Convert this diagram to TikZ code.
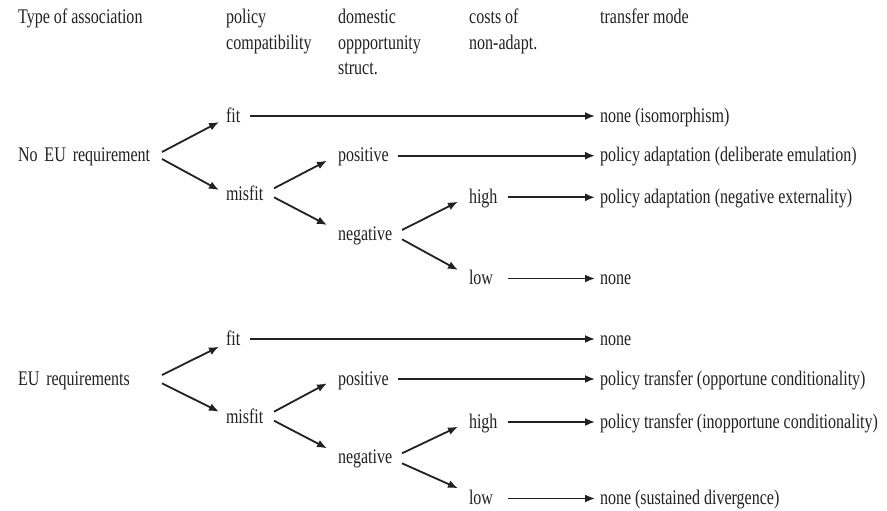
\documentclass[tikz,border=0pt]{standalone}
\usepackage{fontspec}
\setmainfont{Liberation Serif}[FakeStretch=0.77]
\usetikzlibrary{arrows.meta}
\definecolor{ink}{gray}{0.13}
\tikzset{
  lbl/.style={anchor=base west, inner sep=0pt, outer sep=0pt, text height=12pt, text depth=0pt,
              align=left, text=ink, font=\fontsize{20.8}{24}\selectfont},
  hdr/.style={anchor=base west, inner sep=0pt, text=ink, font=\fontsize{20.8}{24}\selectfont},
  arr/.style={draw=ink, line width=1.8pt, -{Latex[length=10pt,width=8pt]}}
}
\begin{document}
\begin{tikzpicture}[x=1pt,y=-1pt]
\useasboundingbox (0,0) rectangle (887,511);
% headers
\node[hdr] (h0)  at (18,24)   {Type of association};
\node[hdr] (h1a) at (226,24)  {policy};
\node[hdr] (h1b) at (226,49.5){compatibility};
\node[hdr] (h2a) at (338,24)  {domestic};
\node[hdr] (h2b) at (338,49.5){oppportunity};
\node[hdr] (h2c) at (338,75)  {struct.};
\node[hdr] (h3a) at (469,24)  {costs of};
\node[hdr] (h3b) at (469,49.5){non-adapt.};
\node[hdr] (h4)  at (600,24)  {transfer mode};
% top block
\node[lbl, text width=144pt] (noeu) at (18,161.7) {\mbox{No EU requirement}};
\node[lbl, text width=24pt]  (fitA) at (226,122)   {fit};
\node[lbl, text width=48pt]  (misA) at (226,200)   {misfit};
\node[lbl, text width=60pt]  (posA) at (338,161.7) {positive};
\node[lbl, text width=64pt]  (negA) at (338,240)   {negative};
\node[lbl, text width=39pt]  (highA) at (469,203.3) {high};
\node[lbl, text width=39pt]  (lowA)  at (469,284.5) {low};
\node[lbl] (oA1) at (600,122)   {none (isomorphism)};
\node[lbl] (oA2) at (600,161.7) {policy adaptation (deliberate emulation)};
\node[lbl] (oA3) at (600,203.3) {policy adaptation (negative externality)};
\node[lbl] (oA4) at (600,284.5) {none};
% bottom block
\node[lbl, text width=144pt] (eu) at (18,385) {\mbox{EU requirements}};
\node[lbl, text width=24pt]  (fitB) at (226,345)   {fit};
\node[lbl, text width=48pt]  (misB) at (226,423.3) {misfit};
\node[lbl, text width=60pt]  (posB) at (338,385)   {positive};
\node[lbl, text width=64pt]  (negB) at (338,463.3) {negative};
\node[lbl, text width=39pt]  (highB) at (469,428)  {high};
\node[lbl, text width=39pt]  (lowB)  at (469,504.5) {low};
\node[lbl] (oB1) at (600,345)   {none};
\node[lbl] (oB2) at (600,385)   {policy transfer (opportune conditionality)};
\node[lbl] (oB3) at (600,428)   {policy transfer (inopportune conditionality)};
\node[lbl] (oB4) at (600,504.5) {none (sustained divergence)};
% top arrows
\draw[arr] ([yshift=3.7pt]noeu.east) -- ([xshift=-7pt,yshift=-6pt]fitA.west);
\draw[arr] ([yshift=-3.3pt]noeu.east) -- ([xshift=-7pt,yshift=4pt]misA.west);
\draw[arr] ([yshift=5.7pt]misA.east) -- ([xshift=-11pt,yshift=-5pt]posA.west);
\draw[arr] ([yshift=-3.3pt]misA.east) -- ([xshift=-11pt,yshift=9pt]negA.west);
\draw[arr] ([yshift=4pt]negA.east) -- ([xshift=-11pt,yshift=-4.4pt]highA.west);
\draw[arr] ([yshift=-5.3pt]negA.east) -- ([xshift=-11pt,yshift=8.5pt]lowA.west);
\draw[arr] (fitA.east) -- ([xshift=-5pt]oA1.west);
\draw[arr] (posA.east) -- ([xshift=-5pt]oA2.west);
\draw[arr] (highA.east) -- ([xshift=-5pt]oA3.west);
\draw[arr] (lowA.east) -- ([xshift=-5pt]oA4.west);
% bottom arrows
\draw[arr] ([yshift=4pt]eu.east) -- ([xshift=-7pt,yshift=-7.7pt]fitB.west);
\draw[arr] ([yshift=-4.3pt]eu.east) -- ([xshift=-7pt,yshift=5.6pt]misB.west);
\draw[arr] ([yshift=5.6pt]misB.east) -- ([xshift=-11pt,yshift=-4.3pt]posB.west);
\draw[arr] ([yshift=-3.4pt]misB.east) -- ([xshift=-11pt,yshift=9pt]negB.west);
\draw[arr] ([yshift=4pt]negB.east) -- ([xshift=-11pt,yshift=-4.7pt]highB.west);
\draw[arr] ([yshift=-6pt]negB.east) -- ([xshift=-11pt,yshift=10.2pt]lowB.west);
\draw[arr] (fitB.east) -- ([xshift=-5pt]oB1.west);
\draw[arr] (posB.east) -- ([xshift=-5pt]oB2.west);
\draw[arr] (highB.east) -- ([xshift=-5pt]oB3.west);
\draw[arr] (lowB.east) -- ([xshift=-5pt]oB4.west);
\end{tikzpicture}
\end{document}
